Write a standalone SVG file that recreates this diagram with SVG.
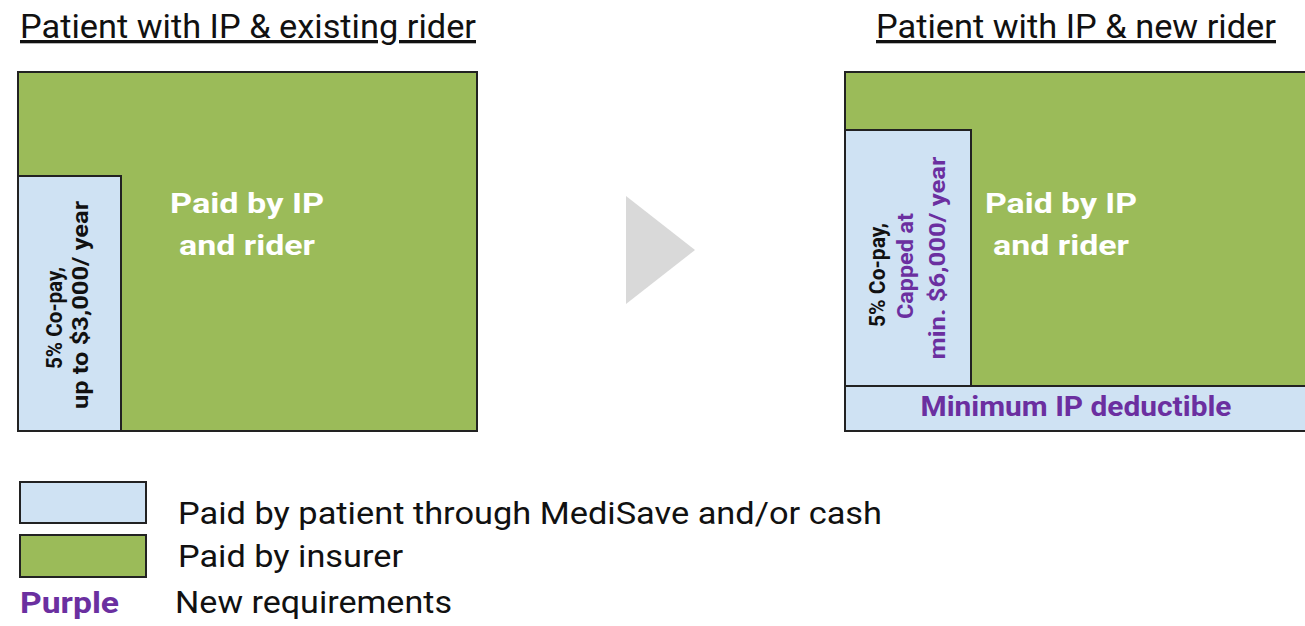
<svg xmlns="http://www.w3.org/2000/svg" width="1305" height="626" viewBox="0 0 1305 626">
  <style>
    .title { font-family: Roboto, "Liberation Sans", sans-serif; font-size: 33px; fill: #111; text-decoration: underline; }
    .ins { fill: #9bbb59; stroke: #222; stroke-width: 2; }
    .pat { fill: #cfe2f3; stroke: #222; stroke-width: 2; }
    .big { font-family: Roboto, "Liberation Sans", sans-serif; font-size: 28px; font-weight: bold; fill: #fff; text-anchor: middle; }
    .rot { font-family: Roboto, "Liberation Sans", sans-serif; font-size: 22px; font-weight: bold; fill: #111; text-anchor: middle; }
    .leg { font-family: Roboto, "Liberation Sans", sans-serif; font-size: 32px; fill: #111; }
    .purple { fill: #6b2fa0; }
  </style>

  <rect width="1305" height="626" fill="#fff"/>

  <!-- Left panel: existing rider -->
  <g id="existing">
    <text class="title" x="20" y="38" textLength="456" lengthAdjust="spacingAndGlyphs">Patient with IP &amp; existing rider</text>
    <rect class="ins" x="18" y="72" width="459" height="359"/>
    <rect class="pat" x="18" y="176" width="103" height="255"/>
    <text class="big" x="247" y="213" textLength="154" lengthAdjust="spacingAndGlyphs">Paid by IP</text>
    <text class="big" x="247" y="255" textLength="136" lengthAdjust="spacingAndGlyphs">and rider</text>
    <text class="rot" transform="translate(62,318) rotate(-90)" textLength="102" lengthAdjust="spacingAndGlyphs">5% Co-pay,</text>
    <text class="rot" transform="translate(88,305) rotate(-90)" textLength="208" lengthAdjust="spacingAndGlyphs">up to $3,000/ year</text>
  </g>

  <!-- Arrow between panels -->
  <g id="arrow">
    <polygon points="626,196 695,250 626,304" fill="#d9d9d9"/>
  </g>

  <!-- Right panel: new rider -->
  <g id="new">
    <text class="title" x="876" y="38" textLength="400" lengthAdjust="spacingAndGlyphs">Patient with IP &amp; new rider</text>
    <rect class="ins" x="845" y="72" width="462" height="359"/>
    <rect class="pat" x="845" y="386" width="462" height="45"/>
    <rect class="pat" x="845" y="130" width="126" height="256"/>
    <text class="big" x="1061" y="213" textLength="152" lengthAdjust="spacingAndGlyphs">Paid by IP</text>
    <text class="big" x="1061" y="255" textLength="136" lengthAdjust="spacingAndGlyphs">and rider</text>
    <text class="rot" transform="translate(885,275) rotate(-90)" textLength="104" lengthAdjust="spacingAndGlyphs">5% Co-pay,</text>
    <text class="rot purple" transform="translate(913,266) rotate(-90)" textLength="106" lengthAdjust="spacingAndGlyphs">Capped at</text>
    <text class="rot purple" transform="translate(945,258) rotate(-90)" textLength="203" lengthAdjust="spacingAndGlyphs">min. $6,000/ year</text>
    <text class="rot purple" x="1076" y="416" style="font-size:27px" textLength="311" lengthAdjust="spacingAndGlyphs">Minimum IP deductible</text>
  </g>

  <!-- Legend -->
  <g id="legend">
    <rect class="pat" x="20" y="482" width="126" height="41"/>
    <rect class="ins" x="20" y="535" width="126" height="42"/>
    <text class="leg" x="178" y="524" textLength="704" lengthAdjust="spacingAndGlyphs">Paid by patient through MediSave and/or cash</text>
    <text class="leg" x="178" y="567" textLength="225" lengthAdjust="spacingAndGlyphs">Paid by insurer</text>
    <text class="leg purple" x="20" y="613" style="font-weight:bold;font-size:29px" textLength="99" lengthAdjust="spacingAndGlyphs">Purple</text>
    <text class="leg" x="175" y="613" textLength="277" lengthAdjust="spacingAndGlyphs">New requirements</text>
  </g>
</svg>
